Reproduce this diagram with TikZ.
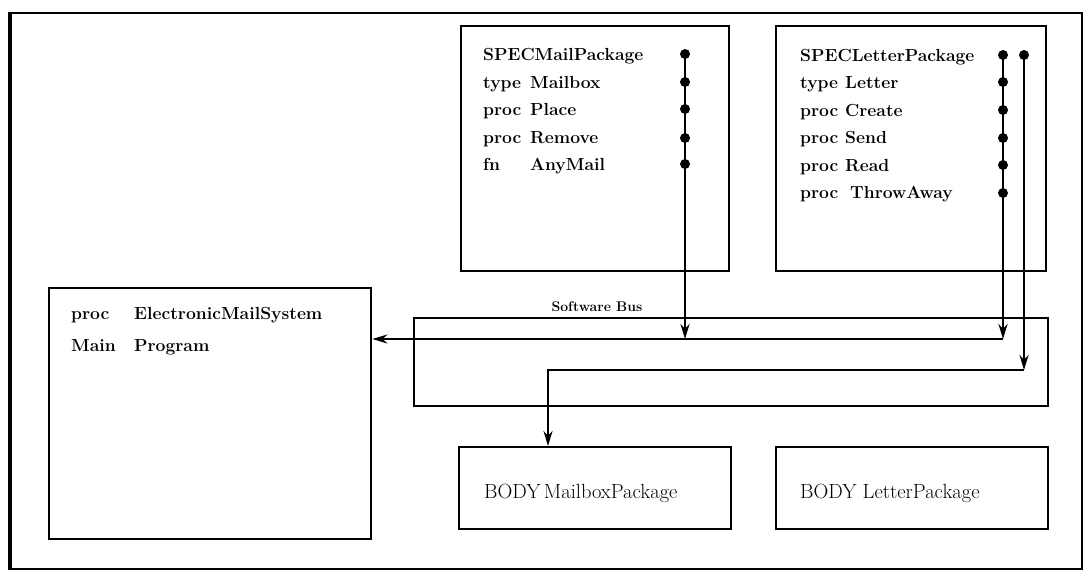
\documentclass[tikz,border=0pt]{standalone}
\usetikzlibrary{arrows.meta}
\begin{document}
\begin{tikzpicture}[x=1pt,y=-1pt,
  box/.style={draw,line width=2.4pt,inner sep=0pt,anchor=north west},
  lbl/.style={anchor=base west,inner sep=0pt,font=\fontsize{17.5}{20}\selectfont\bfseries},
  blbl/.style={anchor=base west,inner sep=0pt,font=\fontsize{20.5}{24}\selectfont},
  arr/.style={line width=2.4pt,-{Stealth[length=15pt,width=9pt]}},
  dot/.style={circle,fill,inner sep=0pt,minimum size=10pt}]
\useasboundingbox (0,0) rectangle (1091,582);
% outer frame
\node[box,line width=2pt,minimum width=1071pt,minimum height=556pt] (frame) at (10,12) {};
\draw[line width=3.5pt] (frame.north west) -- (frame.south west);
% boxes
\node[box,minimum width=268pt,minimum height=245pt] (specmail) at (460,25) {};
\node[box,minimum width=270pt,minimum height=245pt] (specletter) at (775,25) {};
\node[box,minimum width=322pt,minimum height=251pt] (mainbox) at (48,287) {};
\node[box,minimum width=634pt,minimum height=88pt] (bus) at (413,317) {};
\node[box,minimum width=272pt,minimum height=82pt] (bodymail) at (458,446) {};
\node[box,minimum width=272pt,minimum height=82pt] (bodyletter) at (775,446) {};
% texts SPECMail
\node[lbl] (t1) at (483,60) {SPECMailPackage};
\node[lbl] (t2) at (483,88) {type};
\node[lbl] (t2b) at (530,88) {Mailbox};
\node[lbl] (t3) at (483,115) {proc};
\node[lbl] (t3b) at (530,115) {Place};
\node[lbl] (t4) at (483,143) {proc};
\node[lbl] (t4b) at (530,143) {Remove};
\node[lbl] (t5) at (483,170) {fn};
\node[lbl] (t5b) at (530,170) {AnyMail};
% texts SPECLetter
\node[lbl] (l1) at (800,61) {SPECLetterPackage};
\node[lbl] (l2) at (800,88) {type};
\node[lbl] (l2b) at (845,88) {Letter};
\node[lbl] (l3) at (800,116) {proc};
\node[lbl] (l3b) at (845,116) {Create};
\node[lbl] (l4) at (800,143) {proc};
\node[lbl] (l4b) at (845,143) {Send};
\node[lbl] (l5) at (800,171) {proc};
\node[lbl] (l5b) at (845,171) {Read};
\node[lbl] (l6) at (800,198) {proc};
\node[lbl] (l6b) at (850,198) {ThrowAway};
% main box
\node[lbl] (m1) at (71,319) {proc};
\node[lbl] (m1b) at (134,319) {ElectronicMailSystem};
\node[lbl] (m2) at (71,351) {Main};
\node[lbl] (m2b) at (134,351) {Program};
% bus label
\node[anchor=base,inner sep=0pt,font=\fontsize{14}{17}\selectfont\bfseries] (buslbl) at (597,311) {Software Bus};
% body labels
\node[blbl] (b1) at (484,498) {BODY\,MailboxPackage};
\node[blbl] (b2) at (800,498) {BODY LetterPackage};
% dots
\foreach \y [count=\i] in {54,82,109,138,164} {\node[dot] (md\i) at (685,\y) {};}
\foreach \y [count=\i] in {55,82,110,138,165,193} {\node[dot] (ld\i) at (1003,\y) {};}
\node[dot] (le1) at (1024,55) {};
% bus coordinates
\coordinate (busA) at (685,339);
\coordinate (busB) at (1003,339);
\coordinate (busC) at (1024,370);
\coordinate (busD) at (548,370);
% connectors
\draw[arr] (md1.center) -- (busA);
\draw[arr] (ld1.center) -- (busB);
\draw[arr] (le1.center) -- (busC);
\draw[arr] (busB) -- (busB -| mainbox.east);
\draw[arr] (busC) -- (busD) -- (busD |- bodymail.north);
\end{tikzpicture}
\end{document}
